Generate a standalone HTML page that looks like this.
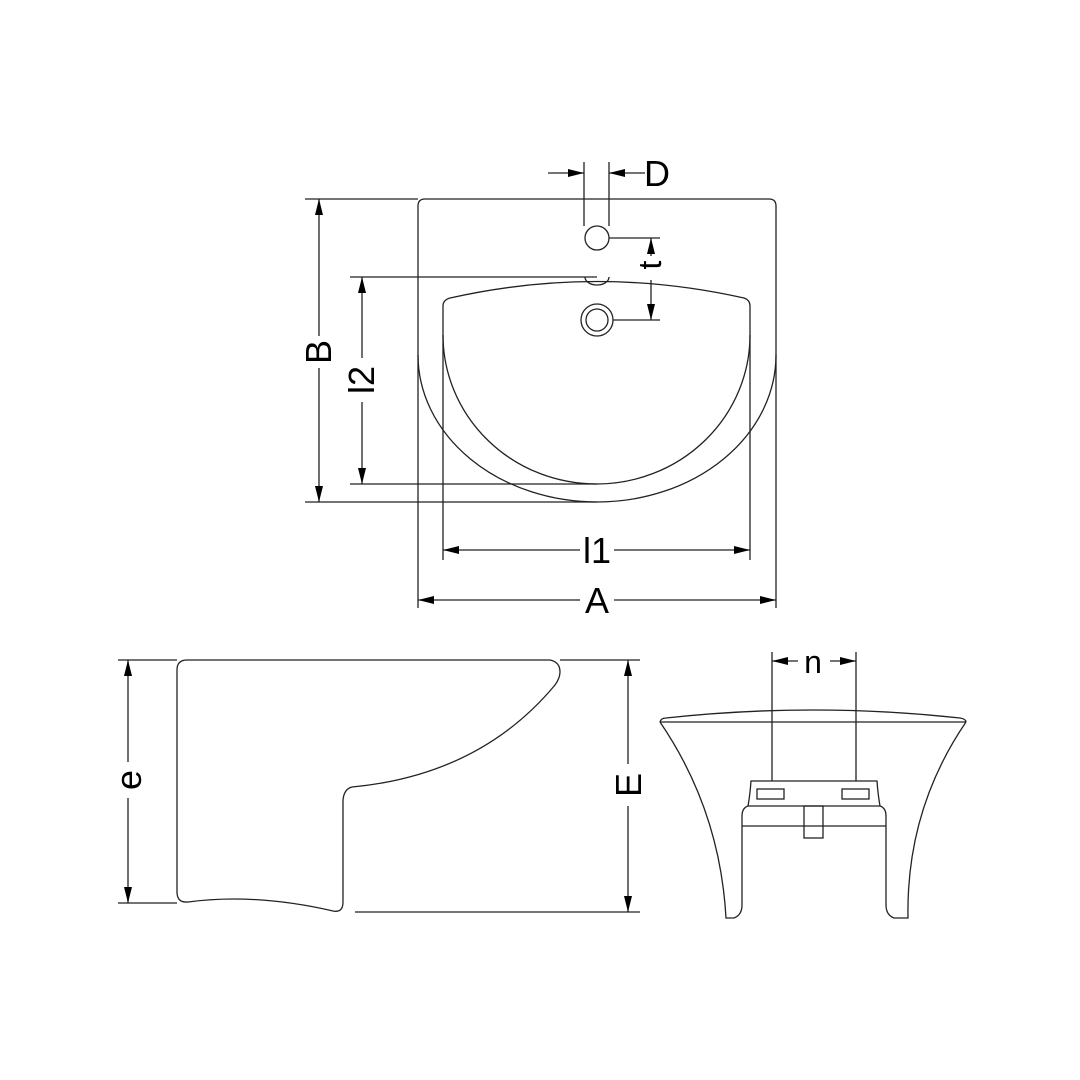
<!DOCTYPE html>
<html><head><style>html,body{margin:0;padding:0;background:#fff}svg{display:block}</style></head><body>
<svg width="1080" height="1080" viewBox="0 0 1080 1080" xmlns="http://www.w3.org/2000/svg">
<defs>
<marker id="a" viewBox="0 0 16 8" refX="16" refY="4" markerWidth="16" markerHeight="8" markerUnits="userSpaceOnUse" orient="auto-start-reverse"><path d="M0,0 L16,4 L0,8 z" fill="#000"/></marker>
</defs>
<g fill="none" stroke="#222" stroke-width="1.3">
<path d="M418,608 V206 Q418,199 425,199 H769 Q776,199 776,206 V608"/>
<path d="M418,355 A179,147 0 0 0 776,355"/>
<path d="M443,560 V306 Q443,300 450,298 Q597,265 744,298 Q750,300 750,306 V560"/>
<path d="M443,335 A153.5,149 0 0 0 750,335"/>
<path d="M585,277 A12,8 0 0 0 609,277"/>
<circle cx="597" cy="238" r="12"/>
<circle cx="597" cy="320" r="16"/>
<circle cx="597" cy="320" r="11"/>
<path d="M584,162 V226 M609,162 V226"/>
<path d="M548,173 H584" marker-end="url(#a)"/>
<path d="M645,173 H609" marker-end="url(#a)"/>
<path d="M609,238 H660 M613,320 H660"/>
<path d="M651,256 V238" marker-end="url(#a)"/>
<path d="M651,280 V320" marker-end="url(#a)"/>
<path d="M305,199 H418 M305,502 H597"/>
<path d="M319,336 V199" marker-end="url(#a)"/>
<path d="M319,368 V502" marker-end="url(#a)"/>
<path d="M350,277 H597 M350,484 H597"/>
<path d="M362,358 V277" marker-end="url(#a)"/>
<path d="M362,402 V484" marker-end="url(#a)"/>
<path d="M580,550 H443" marker-end="url(#a)"/>
<path d="M614,550 H750" marker-end="url(#a)"/>
<path d="M580,600 H418" marker-end="url(#a)"/>
<path d="M614,600 H776" marker-end="url(#a)"/>
<path d="M187,660 H550 Q560,662 560,672 Q560,678 555,685 Q480,775 352,787 Q344,789 343,800 V902 Q343,913 333,911 Q255,893 188,902 Q177,903 177,892 V670 Q177,660 187,660 Z"/>
<path d="M118,660 H177 M560,660 H640 M118,903 H177 M355,912 H640"/>
<path d="M128,762 V660" marker-end="url(#a)"/>
<path d="M128,798 V903" marker-end="url(#a)"/>
<path d="M628,764 V660" marker-end="url(#a)"/>
<path d="M628,806 V912" marker-end="url(#a)"/>
<path d="M660,722 H966"/>
<path d="M660,722 Q661,718 666,718 Q813,702 960,718 Q966,719 966,722"/>
<path d="M660,722 Q720,810 726,918 H734 Q742,915 742,905 V816 Q742,808 748,806"/>
<path d="M966,722 Q906,810 908,918 H894 Q886,915 886,905 V816 Q886,808 880,806"/>
<path d="M748,806 Q750,795 751,781 H877 Q878,795 880,806 H748"/>
<rect x="757" y="789" width="27" height="10"/>
<rect x="842" y="789" width="27" height="10"/>
<path d="M742,826 H886"/>
<rect x="804" y="806" width="19" height="32"/>
<path d="M772,652 V781 M856,652 V781"/>
<path d="M798,661 H772" marker-end="url(#a)"/>
<path d="M830,661 H856" marker-end="url(#a)"/>
</g>
<g font-family="Liberation Sans, sans-serif" font-size="36" fill="#000" text-anchor="middle">
<text x="657" y="186">D</text>
<text x="597" y="563">l1</text>
<text x="597" y="613">A</text>
<text x="813" y="673" font-size="32">n</text>
<text transform="translate(331,352) rotate(-90)">B</text>
<text transform="translate(374,380) rotate(-90)">l2</text>
<text transform="translate(661,265) rotate(-90)" font-size="32">t</text>
<text transform="translate(141,780) rotate(-90)">e</text>
<text transform="translate(641,785) rotate(-90)">E</text>
</g>
</svg>
</body></html>
